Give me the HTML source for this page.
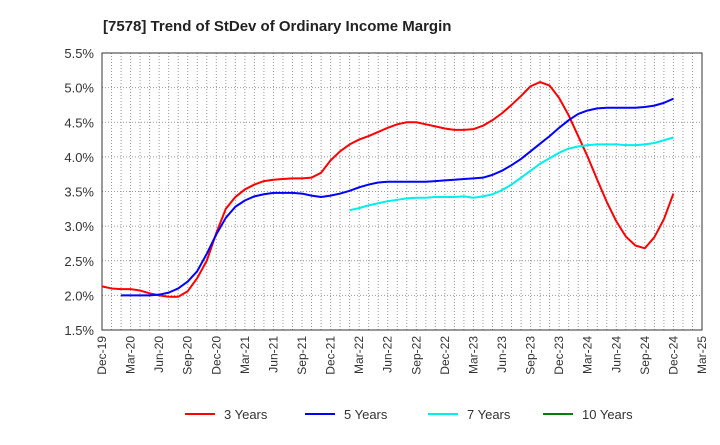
<!DOCTYPE html>
<html><head><meta charset="utf-8"><style>
body{margin:0;background:#fff;font-family:"Liberation Sans",sans-serif;}
svg text{font-family:"Liberation Sans",sans-serif;}
</style></head><body>
<svg id="chart" width="720" height="440" xmlns="http://www.w3.org/2000/svg">
<rect width="720" height="440" fill="#fff"/>
<text x="103" y="31" font-size="15" font-weight="bold" fill="#222">[7578]  Trend of StDev of Ordinary Income Margin</text>
<g id="grid"></g><g id="axes"></g><g id="series"></g><g id="legend"></g>
</svg>
<script>
const xLabels=["Dec-19","Mar-20","Jun-20","Sep-20","Dec-20","Mar-21","Jun-21","Sep-21","Dec-21","Mar-22","Jun-22","Sep-22","Dec-22","Mar-23","Jun-23","Sep-23","Dec-23","Mar-24","Jun-24","Sep-24","Dec-24","Mar-25"];
const yTicks=[1.5,2.0,2.5,3.0,3.5,4.0,4.5,5.0,5.5];
const red3=[2.13,2.1,2.09,2.09,2.07,2.03,2.0,1.98,1.98,2.06,2.25,2.5,2.9,3.25,3.42,3.53,3.6,3.65,3.67,3.68,3.69,3.69,3.7,3.77,3.95,4.08,4.18,4.25,4.3,4.36,4.42,4.47,4.5,4.5,4.47,4.44,4.41,4.39,4.39,4.4,4.45,4.53,4.63,4.75,4.88,5.02,5.08,5.03,4.85,4.6,4.3,4.0,3.67,3.35,3.07,2.85,2.72,2.68,2.84,3.1,3.47];
const blue5=[2.0,2.0,2.0,2.0,2.01,2.04,2.1,2.2,2.35,2.6,2.88,3.12,3.28,3.37,3.43,3.46,3.48,3.48,3.48,3.47,3.44,3.42,3.44,3.47,3.51,3.56,3.6,3.63,3.64,3.64,3.64,3.64,3.64,3.65,3.66,3.67,3.68,3.69,3.7,3.74,3.8,3.88,3.97,4.08,4.19,4.3,4.42,4.53,4.62,4.67,4.7,4.71,4.71,4.71,4.71,4.72,4.74,4.78,4.84];
const cyan7=[3.23,3.26,3.3,3.33,3.36,3.38,3.4,3.41,3.41,3.42,3.42,3.42,3.43,3.41,3.43,3.46,3.52,3.6,3.7,3.8,3.9,3.98,4.06,4.12,4.15,4.17,4.18,4.18,4.18,4.17,4.17,4.18,4.2,4.24,4.28];
const green10=[];
const NS="http://www.w3.org/2000/svg";
const L=102,R=702,T=53,B=330,months=63;
const xs=i=>L+i*(R-L)/months;
const ys=v=>B-(v-1.5)/(5.5-1.5)*(B-T);
function mk(tag,attrs,parent){const e=document.createElementNS(NS,tag);for(const k in attrs)e.setAttribute(k,attrs[k]);parent.appendChild(e);return e;}
const grid=document.getElementById('grid'),axes=document.getElementById('axes'),series=document.getElementById('series'),legend=document.getElementById('legend');
for(let m=1;m<months;m++){const l=mk('line',{x1:xs(m),x2:xs(m),y1:T,y2:B,stroke:'#999','stroke-width':1,'stroke-dasharray':'1,2'},grid);

}
yTicks.forEach(v=>{const y=ys(v);
if(v>1.5&&v<5.5){const l=mk('line',{x1:L,x2:R,y1:y,y2:y,stroke:'#999','stroke-width':1,'stroke-dasharray':'1,2'},grid);

}
const t=mk('text',{x:L-8,y:y+5,'text-anchor':'end','font-size':13,fill:'#333'},axes);t.textContent=v.toFixed(1)+'%';

});
const frame=mk('rect',{x:L,y:T,width:R-L,height:B-T,fill:'none',stroke:'#333','stroke-width':1},axes);


xLabels.forEach((s,i)=>{const x=xs(i*3);const t=mk('text',{transform:`translate(${x+4},${B+6}) rotate(-90)`,'text-anchor':'end','font-size':12,fill:'#333'},axes);t.textContent=s;

});
function line(arr,start,color,name){if(!arr.length)return;const p=mk('polyline',{points:arr.map((v,i)=>xs(start+i)+','+ys(v)).join(' '),fill:'none',stroke:color,'stroke-width':2,'stroke-linejoin':'round'},series);

}
line(red3,0,'#ff0000','series-3-years');
line(blue5,2,'#0000ff','series-5-years');
line(cyan7,26,'#00eeee','series-7-years');
line(green10,0,'#008000','series-10-years');
[[185,'#ff0000','3 Years'],[305,'#0000ff','5 Years'],[428,'#00eeee','7 Years'],[543,'#008000','10 Years']].forEach(([x,c,s])=>{
const g=mk('g',{},legend);


mk('line',{x1:x,x2:x+30,y1:414,y2:414,stroke:c,'stroke-width':2},g);
const t=mk('text',{x:x+39,y:419,'font-size':13,fill:'#333'},g);t.textContent=s;});
</script>
</body></html>
